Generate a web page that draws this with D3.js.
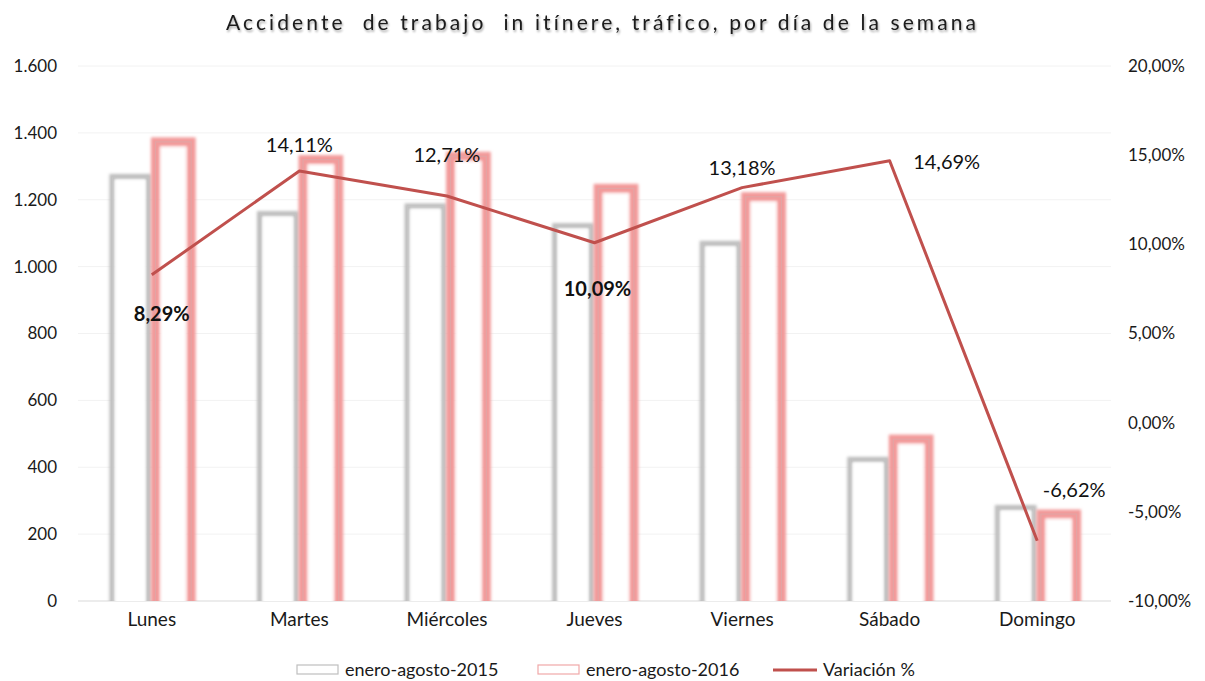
<!DOCTYPE html>
<html><head><meta charset="utf-8">
<script src="https://cdn.jsdelivr.net/npm/d3@7"></script>
<style>
html,body{margin:0;padding:0;background:#fff;}
svg{display:block;font-family:Lato,"Open Sans",sans-serif;font-variant-ligatures:none;font-feature-settings:"liga" 0,"clig" 0;}
</style></head>
<body>
<svg id="chart" width="1205" height="681"></svg>
<script>
const title = "Accidente  de trabajo  in itínere, tráfico, por día de la semana";
const categories = ["Lunes","Martes","Miércoles","Jueves","Viernes","Sábado","Domingo"];
const seriesNames = ["enero-agosto-2015","enero-agosto-2016","Variación %"];
const values2015 = [1268, 1157, 1180, 1121, 1068, 422, 278];
const values2016 = [1373, 1320, 1330, 1234, 1209, 484, 260];
const variation = [0.0829, 0.1411, 0.1271, 0.1009, 0.1318, 0.1469, -0.0662];
const leftTicks = [0,200,400,600,800,1000,1200,1400,1600];
const rightTicks = [-0.10,-0.05,0,0.05,0.10,0.15,0.20];
const labelBold = [true,false,false,true,false,false,false];
const labelOffsets = [[10,39],[0,-26],[0,-41],[3,46],[0,-20],[57,1],[37,-51]];

const W=1205,H=681;
const M={left:78,right:94,top:66,bottom:80};
const svg=d3.select("#chart");
const loc=d3.formatLocale({decimal:",",thousands:".",grouping:[3],currency:["","€"],minus:"-"});
const fmtL=loc.format(",d"), fmtR=loc.format(".2%");

const x=d3.scaleBand().domain(categories).range([M.left,W-M.right]).padding(0);
const x1=d3.scaleBand().domain([0,1]).range([0,x.bandwidth()]).paddingInner(0.17).paddingOuter(0.8);
const yL=d3.scaleLinear().domain([0,1600]).range([H-M.bottom,M.top]);
const yR=d3.scaleLinear().domain([-0.10,0.20]).range([H-M.bottom,M.top]);

const defs=svg.append("defs");
defs.append("filter").attr("id","glow").attr("x","-50%").attr("y","-50%").attr("width","200%").attr("height","200%")
  .append("feGaussianBlur").attr("stdDeviation",1.8);
defs.append("filter").attr("id","soft").attr("x","-50%").attr("y","-50%").attr("width","200%").attr("height","200%")
  .append("feGaussianBlur").attr("stdDeviation",0.8);
const sh=defs.append("filter").attr("id","shadow").attr("x","-5%").attr("y","-30%").attr("width","110%").attr("height","160%");
sh.append("feGaussianBlur").attr("in","SourceAlpha").attr("stdDeviation",1).attr("result","b");
sh.append("feOffset").attr("in","b").attr("dx",1).attr("dy",1.5).attr("result","o");
sh.append("feComponentTransfer").attr("in","o").attr("result","oa").append("feFuncA").attr("type","linear").attr("slope",0.35);
const mg=sh.append("feMerge"); mg.append("feMergeNode").attr("in","oa"); mg.append("feMergeNode").attr("in","SourceGraphic");
defs.append("clipPath").attr("id","plotclip").append("rect")
  .attr("x",0).attr("y",0).attr("width",W).attr("height",H-M.bottom);

// title
svg.append("text").attr("x",601).attr("y",30).attr("text-anchor","middle")
  .attr("font-size",21).attr("fill","#1a1a1a").style("white-space","pre")
  .attr("textLength",750).attr("lengthAdjust","spacing").attr("filter","url(#shadow)")
  .text(title);

// grid
svg.append("g").selectAll("line").data(leftTicks).join("line")
  .attr("x1",M.left).attr("x2",W-M.right).attr("y1",d=>yL(d)).attr("y2",d=>yL(d))
  .attr("stroke",d=>d===0?"#d9d9d9":"#f2f2f2").attr("stroke-width",1);

// axes
const axL=svg.append("g").attr("transform",`translate(${M.left-21},0)`)
  .call(d3.axisLeft(yL).tickValues(leftTicks).tickFormat(fmtL).tickSize(0).tickPadding(0));
const axR=svg.append("g").attr("transform",`translate(${W-M.right+17},0)`)
  .call(d3.axisRight(yR).tickValues(rightTicks).tickFormat(fmtR).tickSize(0).tickPadding(0));
const axB=svg.append("g").attr("transform",`translate(0,${H-M.bottom+12})`)
  .call(d3.axisBottom(x).tickSize(0).tickPadding(0));
[axL,axR,axB].forEach(a=>{a.select(".domain").remove();
  a.selectAll("text").attr("font-size",17).attr("fill","#1a1a1a").attr("font-family","Lato,sans-serif");});
axB.selectAll("text").attr("font-size",19).attr("dy","0.68em");

// bars
const styles=[
  {glow:"#bdbdbd",line:"#c4c4c4",inner:"#ececec"},
  {glow:"#f29a9a",line:"#e3a4a4",inner:"#f7c6c6"}];
const barsG=svg.append("g").attr("clip-path","url(#plotclip)");
const data=categories.map((c,i)=>({c,i,vals:[values2015[i],values2016[i]]}));
const grp=barsG.selectAll("g.cat").data(data).join("g").attr("class","cat")
  .attr("transform",d=>`translate(${x(d.c)},0)`);
[0,1].forEach(s=>{
  const st=styles[s];
  const gx=d=>x1(s), gw=x1.bandwidth();
  grp.append("rect").attr("x",gx).attr("y",d=>yL(d.vals[s])).attr("width",gw)
    .attr("height",d=>yL(0)-yL(d.vals[s])+10)
    .attr("fill","none").attr("stroke",st.glow).attr("stroke-width",s?9:6).attr("filter","url(#glow)");
  grp.append("rect").attr("x",gx).attr("y",d=>yL(d.vals[s])).attr("width",gw)
    .attr("height",d=>yL(0)-yL(d.vals[s])+10)
    .attr("fill","none").attr("stroke",st.line).attr("stroke-width",1.2);
  const ins=s?5:2.5;
  grp.append("rect").attr("x",d=>x1(s)+ins).attr("y",d=>yL(d.vals[s])+ins).attr("width",gw-2*ins)
    .attr("height",d=>Math.max(0,yL(0)-yL(d.vals[s])-ins+10))
    .attr("fill","#fff").attr("stroke",st.inner).attr("stroke-width",1).attr("filter","url(#soft)");
});

// line
const cx=c=>x(c)+x.bandwidth()/2;
svg.append("path").datum(variation)
  .attr("d",d3.line().x((d,i)=>cx(categories[i])).y(d=>yR(d)))
  .attr("fill","none").attr("stroke","#c0504d").attr("stroke-width",3).attr("stroke-linejoin","round");

// data labels
const fmtV=loc.format(".2%");
svg.append("g").selectAll("text").data(variation).join("text")
  .attr("x",(d,i)=>cx(categories[i])+labelOffsets[i][0])
  .attr("y",(d,i)=>yR(d)+labelOffsets[i][1])
  .attr("dy","0.35em").attr("text-anchor","middle")
  .attr("font-size",20).attr("fill","#111")
  .attr("font-weight",(d,i)=>labelBold[i]?"bold":"normal")
  .text(d=>fmtV(d));

// legend
const lg=svg.append("g");
const legendItems=[{x:297,t:"rect",s:0},{x:538,t:"rect",s:1},{x:773,t:"line"}];
legendItems.forEach((it,k)=>{
  if(it.t==="rect"){
    lg.append("rect").attr("x",it.x).attr("y",665).attr("width",41).attr("height",9)
      .attr("fill","#fff").attr("stroke",k===0?"#bfbfbf":"#f0a8a8").attr("stroke-width",1.2);
  } else {
    lg.append("line").attr("x1",it.x).attr("x2",it.x+44).attr("y1",670).attr("y2",670)
      .attr("stroke","#c0504d").attr("stroke-width",3);
  }
  lg.append("text").attr("x",it.x+(it.t==="rect"?48:50)).attr("y",670).attr("dy","0.35em")
    .attr("font-size",18).attr("fill","#1a1a1a").text(seriesNames[k]);
});
</script>
</body></html>
